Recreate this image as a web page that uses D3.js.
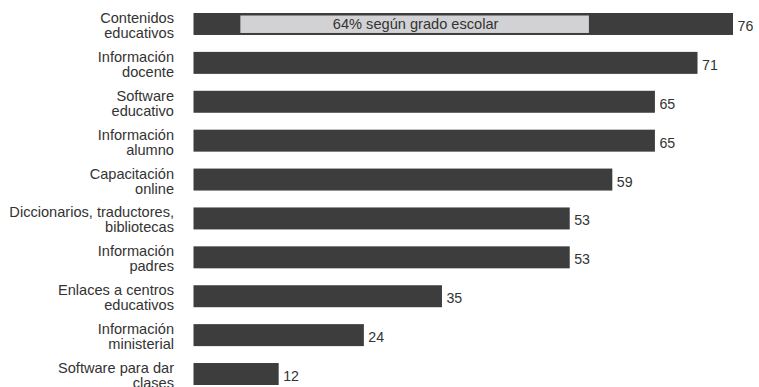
<!DOCTYPE html>
<html><head><meta charset="utf-8">
<script src="https://cdn.jsdelivr.net/npm/d3@7"></script>
<style>body{margin:0;background:#fff}svg{display:block}text{font-family:"Liberation Sans",Arial,Helvetica,sans-serif}</style>
</head><body><svg id="c" width="759" height="387"></svg>
<script>
const categories = [
  ["Contenidos","educativos"],
  ["Información","docente"],
  ["Software","educativo"],
  ["Información","alumno"],
  ["Capacitación","online"],
  ["Diccionarios, traductores,","bibliotecas"],
  ["Información","padres"],
  ["Enlaces a centros","educativos"],
  ["Información","ministerial"],
  ["Software para dar","clases"]
];
const values = [76,71,65,65,59,53,53,35,24,12];
const annotationText = ["64% según grado escolar"];
const annotationExtent = [6.6, 55.7];

const svg = d3.select("#c");
const x = d3.scaleLinear().domain([0,76]).range([193.5,733]);
const y = d3.scaleBand().domain(d3.range(values.length)).range([13,385]).paddingInner(0.435).paddingOuter(0);
const bw = y.bandwidth();

svg.selectAll("rect.bar").data(values).join("rect").attr("class","bar")
  .attr("x",x(0)).attr("y",(d,i)=>y(i)).attr("width",d=>x(d)-x(0)).attr("height",bw)
  .attr("fill","#3d3d3d");

svg.selectAll("text.val").data(values).join("text").attr("class","val")
  .attr("x",d=>x(d)+4.5).attr("y",(d,i)=>y(i)+bw/2+7)
  .attr("font-size",14.2).attr("fill","#333").text(d=>d);

const lab = svg.selectAll("text.cat").data(categories).join("text").attr("class","cat")
  .attr("text-anchor","end").attr("font-size",14.6).attr("fill","#333");
lab.each(function(d,i){
  const c = y(i)+bw/2;
  d3.select(this).selectAll("tspan").data(d).join("tspan")
    .attr("x",174).attr("y",(t,j)=>c-1+j*15).text(t=>t);
});

svg.append("rect").attr("x",x(annotationExtent[0])).attr("y",y(0)+2.5)
  .attr("width",x(annotationExtent[1])-x(annotationExtent[0])).attr("height",bw-4.5)
  .attr("fill","#d2d2d4");
svg.append("text").attr("x",(x(annotationExtent[0])+x(annotationExtent[1]))/2+1).attr("y",y(0)+bw/2+5)
  .attr("text-anchor","middle").attr("font-size",14.6).attr("fill","#333").text(annotationText[0]);
</script></body></html>
